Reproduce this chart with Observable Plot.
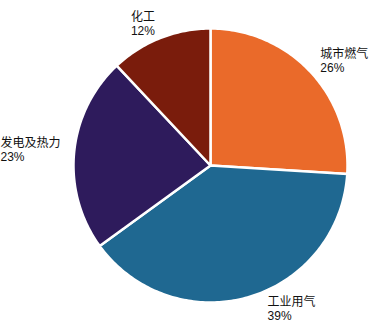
<!DOCTYPE html>
<html><head><meta charset="utf-8">
<script src="https://cdn.jsdelivr.net/npm/d3@7"></script>
<script src="https://cdn.jsdelivr.net/npm/@observablehq/plot@0.6"></script>
<style>body{margin:0;background:#fff} #chart{width:378px;height:329px}</style>
</head><body><div id="chart"></div>
<script>
// ---- data ----
const categories = ["城市燃气", "工业用气", "发电及热力", "化工"];
const shares = [26, 39, 23, 12];
const colors = ["#EA6A2A", "#1F6891", "#2E1B5C", "#7A1C0C"];

// ---- layout ----
const W = 378, H = 329, cx = 210, cy = 165, r = 137;
const fontSize = 12;
const labelRadius = 1.1;
const labelNudge = {"工业用气": 15}; // px, horizontal

const rows = categories.map((name, i) => ({name, share: shares[i]}));
const arcs = d3.pie().sort(null).value(d => d.share)(rows);

const pts = [];
arcs.forEach(a => {
  pts.push({name: a.data.name, x: 0, y: 0});
  const n = Math.max(2, Math.ceil((a.endAngle - a.startAngle) / (Math.PI / 180)));
  for (let k = 0; k <= n; k++) {
    const t = a.startAngle + (a.endAngle - a.startAngle) * k / n;
    pts.push({name: a.data.name, x: Math.sin(t), y: Math.cos(t)});
  }
});

// rough text width estimate (CJK full width, latin ~0.56em)
const textWidth = s => Math.max(...s.split("\n").map(line =>
  [...line].reduce((w, ch) => w + (/[\u3000-\u9fff]/.test(ch) ? fontSize : ch === "%" ? fontSize * 0.89 : fontSize * 0.56), 0)));

const labels = arcs.map(a => {
  const m = (a.startAngle + a.endAngle) / 2;
  const s = Math.sin(m);
  const text = `${a.data.name}\n${a.data.share}%`;
  const nudge = (labelNudge[a.data.name] || 0);
  // left-side labels: block ends at the anchor point, but lines are left-aligned
  const shift = s >= 0 ? nudge : -nudge - textWidth(text);
  return {text, x: labelRadius * s + shift / r, y: labelRadius * Math.cos(m)};
});

const chart = Plot.plot({
  width: W, height: H,
  margin: 0,
  x: {axis: null, domain: [-cx / r, (W - cx) / r]},
  y: {axis: null, domain: [-(H - cy) / r, cy / r]},
  color: {domain: categories, range: colors},
  style: {fontFamily: "'Liberation Sans', 'Noto Sans CJK SC', sans-serif", fontSize: fontSize + "px", background: "#fff"},
  marks: [
    Plot.line(pts, {x: "x", y: "y", z: "name", fill: "name", stroke: "white", strokeWidth: 2.5, strokeLinejoin: "round", curve: "linear-closed"}),
    Plot.text(labels, {x: "x", y: "y", text: "text", textAnchor: "start", dy: -2, lineHeight: 1.15, fill: "#111", fontSize})
  ]
});
document.getElementById("chart").appendChild(chart);
</script>
</body></html>
